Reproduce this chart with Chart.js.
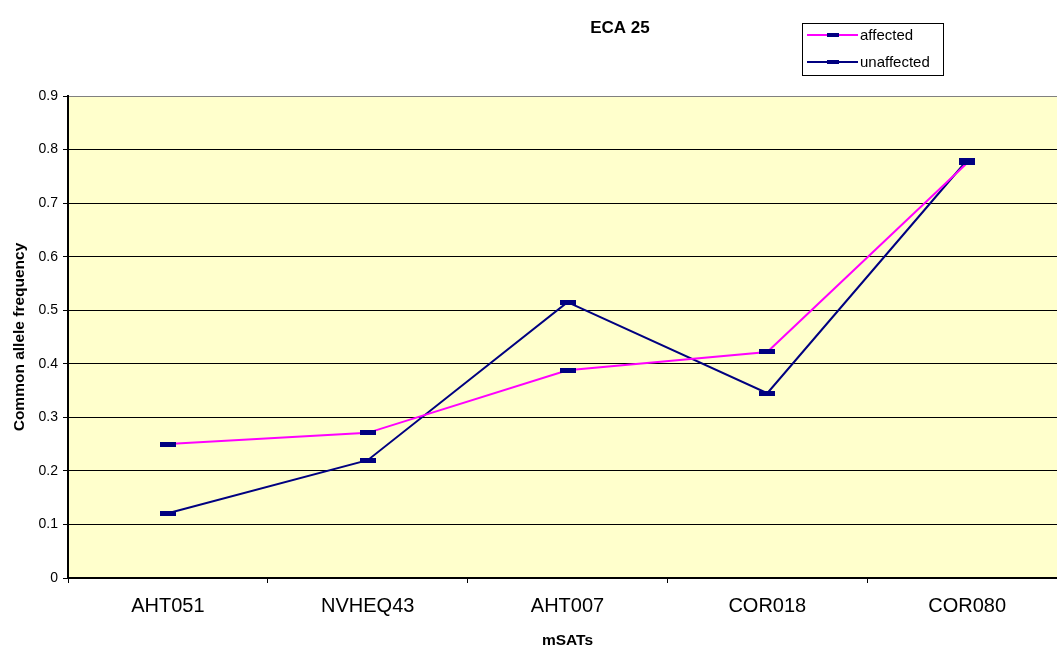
<!DOCTYPE html>
<html>
<head>
<meta charset="utf-8">
<title>ECA 25</title>
<script src="https://cdn.jsdelivr.net/npm/chart.js@4.4.1/dist/chart.umd.min.js"></script>
<style>
  html, body { margin: 0; padding: 0; background: #fff; overflow: hidden; }
  #wrap { width: 1073px; height: 650px; }
</style>
</head>
<body>
<div id="wrap"><canvas id="eca-chart" width="1073" height="650"></canvas></div>
<script>
// --- datos ---
const markers = ['AHT051', 'NVHEQ43', 'AHT007', 'COR018', 'COR080'];
const affected = [0.25, 0.271, 0.388, 0.422, 0.775];
const unaffected = [0.121, 0.22, 0.515, 0.345, 0.78];
const yTicks = [0, 0.1, 0.2, 0.3, 0.4, 0.5, 0.6, 0.7, 0.8, 0.9];

const FONT = 'Arial, "Liberation Sans", sans-serif';
const NAVY = '#000080';
const MAGENTA = '#FF00FF';

// marcador en forma de guion horizontal
function dashMarker(w, h) {
    const c = document.createElement('canvas');
    c.width = w;
    c.height = h;
    const g = c.getContext('2d');
    g.fillStyle = NAVY;
    g.fillRect(0, 0, w, h);
    return c;
}
const dash = dashMarker(16, 5);

// fondo amarillo del área de trazado
const plotBackground = {
    id: 'plotBackground',
    beforeDraw(chart) {
        const { ctx, chartArea: a } = chart;
        ctx.save();
        ctx.fillStyle = '#FFFFCC';
        ctx.fillRect(a.left, a.top, a.right - a.left, a.bottom - a.top);
        ctx.restore();
    }
};

// título y leyenda con recuadro
const titleAndLegend = {
    id: 'titleAndLegend',
    afterDraw(chart) {
        const ctx = chart.ctx;
        ctx.save();
        ctx.fillStyle = '#000';
        ctx.font = 'bold 17px ' + FONT;
        ctx.textAlign = 'center';
        ctx.textBaseline = 'middle';
        ctx.fillText('ECA 25', 620, 28);

        // recuadro
        ctx.fillStyle = '#fff';
        ctx.fillRect(802, 23, 141, 52);
        ctx.strokeStyle = '#000';
        ctx.lineWidth = 1;
        ctx.strokeRect(802.5, 23.5, 141, 52);

        const rows = [35, 62];
        chart.data.datasets.forEach((ds, i) => {
            const y = rows[i];
            ctx.strokeStyle = ds.borderColor;
            ctx.lineWidth = 2;
            ctx.beginPath();
            ctx.moveTo(807, y);
            ctx.lineTo(858, y);
            ctx.stroke();
            ctx.fillStyle = NAVY;
            ctx.fillRect(827, y - 2, 12, 4);
            ctx.fillStyle = '#000';
            ctx.font = '15px ' + FONT;
            ctx.textAlign = 'left';
            ctx.fillText(ds.label, 860, y + 1);
        });
        ctx.restore();
    }
};

const ctx = document.getElementById('eca-chart').getContext('2d');
new Chart(ctx, {
    type: 'line',
    data: {
        labels: markers,
        datasets: [
            {
                label: 'affected',
                data: affected,
                borderColor: MAGENTA,
                borderWidth: 2,
                pointStyle: dash,
                tension: 0
            },
            {
                label: 'unaffected',
                data: unaffected,
                borderColor: NAVY,
                borderWidth: 2,
                pointStyle: dash,
                tension: 0
            }
        ]
    },
    options: {
        responsive: false,
        animation: false,
        layout: { padding: { top: 96, left: 0, right: 0, bottom: 0 } },
        plugins: {
            legend: { display: false },
            title: { display: false },
            tooltip: { enabled: false }
        },
        scales: {
            x: {
                type: 'category',
                offset: true,
                grid: {
                    offset: true,
                    drawOnChartArea: false,
                    drawTicks: true,
                    tickLength: 5,
                    tickColor: '#000'
                },
                border: { color: '#000', width: 2 },
                ticks: {
                    color: '#000',
                    font: { family: FONT, size: 20 },
                    padding: 11,
                    maxRotation: 0
                },
                title: {
                    display: true,
                    text: 'mSATs',
                    color: '#000',
                    font: { family: FONT, size: 15.5, weight: 'bold' },
                    padding: { top: 0, bottom: 0 }
                },
                afterFit(scale) { scale.height = 72; }
            },
            y: {
                min: 0,
                max: 0.9,
                afterBuildTicks(scale) {
                    scale.ticks = yTicks.map(v => ({ value: v }));
                },
                grid: {
                    color: c => (c.tick && c.tick.value === 0.9) ? '#808080' : '#000',
                    lineWidth: 1,
                    tickLength: 5,
                    tickColor: '#000'
                },
                border: { color: '#000', width: 2 },
                ticks: {
                    color: '#000',
                    font: { family: FONT, size: 14 },
                    padding: 5,
                    callback: v => (v === 0 ? '0' : Number(v).toFixed(1))
                },
                title: {
                    display: true,
                    text: 'Common allele frequency',
                    color: '#000',
                    font: { family: FONT, size: 15.5, weight: 'bold' },
                    padding: { top: 10, bottom: 0 }
                },
                afterFit(scale) { scale.width = 68; }
            }
        }
    },
    plugins: [plotBackground, titleAndLegend]
});
</script>
</body>
</html>
